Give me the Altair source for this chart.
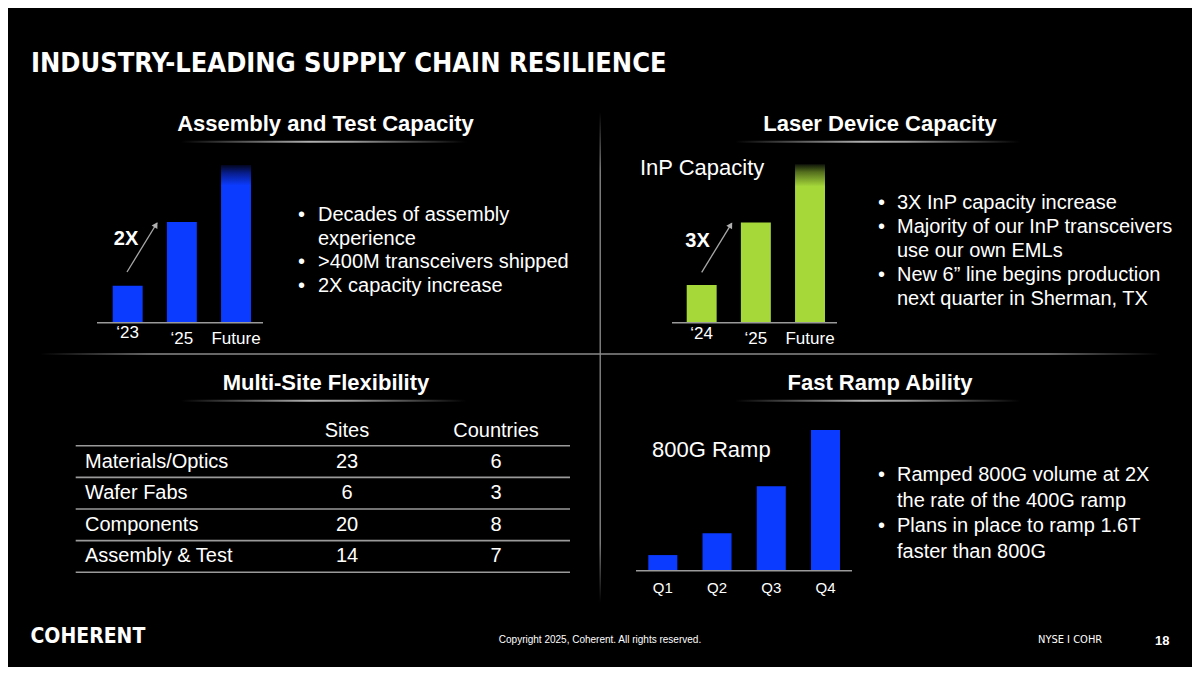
import altair as alt
import pandas as pd

# ---------------- data ----------------
TITLE = "INDUSTRY-LEADING SUPPLY CHAIN RESILIENCE"
headers = ["Assembly and Test Capacity", "Laser Device Capacity",
           "Multi-Site Flexibility", "Fast Ramp Ability"]

assembly_periods = ["\u201823", "\u201825", "Future"]
assembly_capacity = [1.0, 2.72, 4.26]

laser_periods = ["\u201824", "\u201825", "Future"]
laser_capacity = [1.0, 2.66, 4.2]

ramp_quarters = ["Q1", "Q2", "Q3", "Q4"]
ramp_volume = [1.0, 2.4, 5.4, 9.0]

site_categories = ["Materials/Optics", "Wafer Fabs", "Components", "Assembly & Test"]
site_counts = [23, 6, 20, 14]
country_counts = [6, 3, 8, 7]
table_columns = ["Sites", "Countries"]

BUL = "\u2022"
assembly_bullets = ["Decades of assembly", "experience",
                    ">400M transceivers shipped", "2X capacity increase"]
assembly_marks = [BUL, "", BUL, BUL]
laser_bullets = ["3X InP capacity increase", "Majority of our InP transceivers",
                 "use our own EMLs", "New 6\u201d line begins production",
                 "next quarter in Sherman, TX"]
laser_marks = [BUL, BUL, "", BUL, ""]
ramp_bullets = ["Ramped 800G volume at 2X", "the rate of the 400G ramp",
                "Plans in place to ramp 1.6T", "faster than 800G"]
ramp_marks = [BUL, "", BUL, ""]

# ---------------- style ----------------
BLUE = "#0B3BFF"
GREEN = "#A6D83A"
WHITE = "#FFFFFF"
GRAY = "#9A9A9A"
FONT = "Liberation Sans, Arial, sans-serif"
COND = "Liberation Sans Narrow, DejaVu Sans Condensed, sans-serif"
W, H = 1184, 659


def P(v):
    # page pixel -> chart pixel (page has an 8px margin)
    return v - 8


one = pd.DataFrame({"k": [0]})


def grad(stops, vertical=False):
    return alt.LinearGradient(
        gradient="linear", x1=0, y1=0, x2=0 if vertical else 1, y2=1 if vertical else 0,
        stops=[alt.GradientStop(offset=o, color=c) for o, c in stops])


def text(s, x, y, size, weight="normal", align="left", baseline="middle", font=FONT,
         color=WHITE):
    return alt.Chart(one).mark_text(
        text=s, fontSize=size, fontWeight=weight, align=align, baseline=baseline,
        font=font, color=color).encode(x=alt.value(P(x)), y=alt.value(P(y)))


def band_rect(x1, x2, y1, y2, fill):
    return alt.Chart(one).mark_rect(fill=fill, strokeWidth=0).encode(
        x=alt.value(P(x1)), x2=alt.value(P(x2)), y=alt.value(P(y1)), y2=alt.value(P(y2)))


def underline(x1, x2, y):
    return band_rect(x1, x2, y - 1, y + 1,
                     grad([(0, "#000000"), (0.45, "#B0B0B0"), (0.6, "#9A9A9A"), (1, "#000000")]))


def arrow(x0, y0, x1, y1, angle):
    line = alt.Chart(one).mark_rule(color="#A8A8A8", strokeWidth=1.3).encode(
        x=alt.value(P(x0)), y=alt.value(P(y0)), x2=alt.value(P(x1)), y2=alt.value(P(y1)))
    head = alt.Chart(one).mark_point(shape="triangle", filled=True, color="#B0B0B0",
                                     size=45, angle=angle, opacity=1).encode(
        x=alt.value(P(x1 - 1.5)), y=alt.value(P(y1 + 2.5)))
    return [line, head]


def bullets(marks, lines, xb, xt, y_first, lh, size=20):
    n = len(lines)
    df = pd.DataFrame({"line": list(range(n)), "txt": lines, "mark": marks})
    ys = alt.Scale(type="linear", domain=[0, n - 1],
                   range=[P(y_first), P(y_first + lh * (n - 1))], nice=False, zero=False)
    Y = alt.Y("line:Q", scale=ys, axis=None)
    kw = dict(color=WHITE, font=FONT, fontSize=size, baseline="alphabetic", align="left")
    t = alt.Chart(df).mark_text(**kw).encode(x=alt.value(P(xt)), y=Y, text="txt:N")
    b = alt.Chart(df).transform_filter(alt.datum.mark != "").mark_text(**kw).encode(
        x=alt.value(P(xb)), y=Y, text="mark:N")
    return alt.layer(t, b)


def bar_panel(cats, vals, color, fade, x0, x1, pad_inner, base_y, top_y,
              rx0, rx1, label_y, first_label_y, label_size):
    df = pd.DataFrame({"period": cats, "value": vals})
    xs = alt.Scale(type="band", domain=cats, range=[P(x0), P(x1)],
                   paddingInner=pad_inner, paddingOuter=0)
    ys = alt.Scale(type="linear", domain=[0, max(vals)], range=[P(base_y), P(top_y)],
                   nice=False, zero=True)
    X = alt.X("period:N", scale=xs, axis=None)
    if fade is not None:
        fill = alt.condition(alt.datum.period == cats[-1], alt.value(fade), alt.value(color))
    else:
        fill = alt.value(color)
    bars = alt.Chart(df).mark_bar(strokeWidth=0).encode(
        x=X, y=alt.Y("value:Q", scale=ys, axis=None), fill=fill)
    base = alt.Chart(one).mark_rule(color=GRAY, strokeWidth=1.6).encode(
        y=alt.Y(datum=0, type="quantitative", scale=ys, axis=None),
        x=alt.value(P(rx0)), x2=alt.value(P(rx1)))
    lab_kw = dict(color=WHITE, font=FONT, fontSize=label_size, baseline="middle", align="center")
    labels = alt.Chart(df).transform_filter(alt.datum.period != cats[0]).mark_text(**lab_kw).encode(
        x=X, y=alt.value(P(label_y)), text="period:N")
    first = alt.Chart(df).transform_filter(alt.datum.period == cats[0]).mark_text(**lab_kw).encode(
        x=X, y=alt.value(P(first_label_y)), text="period:N")
    return alt.layer(bars, base, labels, first)


layers = []

# dividers
layers.append(band_rect(599.5, 601, 112, 602,
                        grad([(0, "#000000"), (0.12, "#7A7A7A"), (0.88, "#7A7A7A"), (1, "#000000")],
                             vertical=True)))
layers.append(band_rect(40, 1160, 353.2, 354.8,
                        grad([(0, "#000000"), (0.1, "#8A8A8A"), (0.9, "#8A8A8A"), (1, "#000000")])))

# title
layers.append(text(TITLE, 31, 71.5, 27, weight="bold", baseline="alphabetic", font=COND))

# section headers + underlines
layers.append(text(headers[0], 325.5, 124, 22, weight="bold", align="center"))
layers.append(text(headers[1], 880, 124, 22, weight="bold", align="center"))
layers.append(text(headers[2], 326, 383, 22, weight="bold", align="center"))
layers.append(text(headers[3], 880, 383, 22, weight="bold", align="center"))
layers.append(underline(181, 466, 141.7))
layers.append(underline(735, 1020, 141.7))
layers.append(underline(181, 466, 400.7))
layers.append(underline(735, 1020, 400.7))

# assembly panel
blue_fade = grad([(0, "#03061E"), (0.05, "#081D8A"), (0.13, BLUE), (1, BLUE)], vertical=True)
green_fade = grad([(0, "#10150A"), (0.05, "#55701E"), (0.14, GREEN), (1, GREEN)], vertical=True)
layers.append(bar_panel(assembly_periods, assembly_capacity, BLUE, blue_fade,
                        112.7, 251, 0.447, 322.7, 165, 97, 263, 339, 333, 17))
layers += arrow(127, 272, 157, 223, 31)
layers.append(text("2X", 126, 239, 20, weight="bold", align="center"))
layers.append(bullets(assembly_marks, assembly_bullets, 298, 318, 221, 23.7))

# laser panel
layers.append(bar_panel(laser_periods, laser_capacity, GREEN, green_fade,
                        686.7, 825, 0.447, 322.7, 164.3, 672, 837, 339, 334, 17))
layers += arrow(701.7, 272.3, 731.7, 223.3, 31)
layers.append(text("3X", 697.5, 240.7, 20, weight="bold", align="center"))
layers.append(text("InP Capacity", 640, 175, 22, baseline="alphabetic"))
layers.append(bullets(laser_marks, laser_bullets, 878, 897, 209, 24))

# ramp panel
layers.append(bar_panel(ramp_quarters, ramp_volume, BLUE, None,
                        648.3, 840, 0.465, 570.7, 430, 636, 852, 588.3, 588.3, 15))
layers.append(text("800G Ramp", 652, 457, 22, baseline="alphabetic"))
layers.append(bullets(ramp_marks, ramp_bullets, 878, 897, 481, 25.7))

# table
tdf = pd.DataFrame({
    "category": site_categories * 2,
    "column": [table_columns[0]] * len(site_categories) + [table_columns[1]] * len(site_categories),
    "count": site_counts + country_counts,
})
rows = pd.DataFrame({"category": site_categories})
cols = pd.DataFrame({"column": table_columns})
ty = alt.Scale(type="band", domain=site_categories, range=[P(445.7), P(572.3)],
               paddingInner=0, paddingOuter=0)
tx = alt.Scale(type="point", domain=table_columns, range=[P(347), P(496)], padding=0)
cell_kw = dict(color=WHITE, font=FONT, fontSize=20, baseline="middle")
t_vals = alt.Chart(tdf).mark_text(align="center", **cell_kw).encode(
    x=alt.X("column:N", scale=tx, axis=None),
    y=alt.Y("category:N", scale=ty, axis=None, bandPosition=0.5),
    text="count:Q")
t_rows = alt.Chart(rows).mark_text(align="left", **cell_kw).encode(
    x=alt.value(P(85)),
    y=alt.Y("category:N", scale=ty, axis=None, bandPosition=0.5),
    text="category:N")
t_head = alt.Chart(cols).mark_text(align="center", **cell_kw).encode(
    x=alt.X("column:N", scale=tx, axis=None), y=alt.value(P(430.7)), text="column:N")
t_lines = alt.Chart(rows).mark_rule(color=GRAY, strokeWidth=1.6).encode(
    y=alt.Y("category:N", scale=ty, axis=None, bandPosition=1),
    x=alt.value(P(75.7)), x2=alt.value(P(570)))
t_top = alt.Chart(rows).transform_filter(alt.datum.category == site_categories[0]).mark_rule(
    color=GRAY, strokeWidth=1.6).encode(
    y=alt.Y("category:N", scale=ty, axis=None, bandPosition=0),
    x=alt.value(P(75.7)), x2=alt.value(P(570)))
layers.append(alt.layer(t_lines, t_top, t_vals, t_rows, t_head))

# footer
layers.append(text("COHERENT", 30.5, 643, 21, weight="bold", baseline="alphabetic", font=COND))
layers.append(text("Copyright 2025, Coherent. All rights reserved.", 600, 640, 10, align="center"))
layers.append(text("NYSE I COHR", 1038, 640, 11, font=COND))
layers.append(text("18", 1155, 641, 13, weight="bold"))

chart = alt.layer(*layers).properties(
    width=W, height=H, background="#000000", padding=0,
    autosize=alt.AutoSizeParams(type="none"),
).resolve_scale(x="independent", y="independent").configure_view(stroke=None)

chart.save("out.html", embed_options={"renderer": "svg", "actions": False})
